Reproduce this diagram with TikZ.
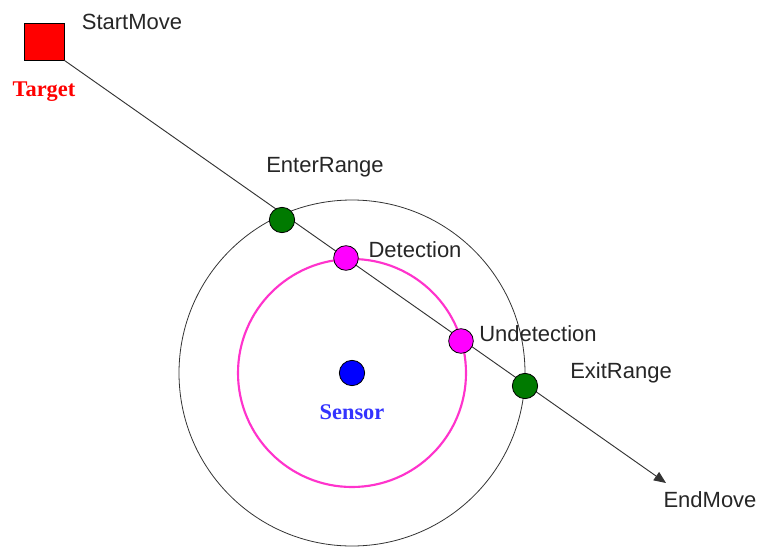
\documentclass[tikz,border=0pt]{standalone}
\usepackage{fontspec}
\setmainfont{Liberation Sans}
\newfontfamily\serifbold{Liberation Serif}
\usetikzlibrary{arrows.meta}
\definecolor{dgreen}{HTML}{007A00}
\definecolor{pinkline}{HTML}{FF33CC}
\definecolor{mfill}{HTML}{FF00FF}
\definecolor{sensorblue}{HTML}{3333FF}
\begin{document}
\begin{tikzpicture}[x=0.75pt,y=-0.75pt,
  lbl/.style={font=\fontsize{16.5pt}{18pt}\selectfont, text=black!85, inner sep=0pt},
  slbl/.style={font=\serifbold\bfseries\fontsize{16.8pt}{18pt}\selectfont, inner sep=0pt},
  dot/.style={circle, draw=black, line width=0.6pt, minimum size=19pt, inner sep=0pt},
  gdot/.style={dot, fill=dgreen},
  mdot/.style={dot, fill=mfill, minimum size=18.5pt},
  bdot/.style={dot, fill=blue},
  path/.style={draw=black!80, line width=0.7pt},
  ring/.style={draw=black!80, line width=0.6pt},
  pring/.style={draw=pinkline, line width=1.6pt}
]
\useasboundingbox (0,0) rectangle (759,546);
% target square
\node[draw=black, line width=0.6pt, fill=red, minimum width=30pt, minimum height=27.75pt, inner sep=0pt] (target) at (44,41.5) {};
\node[slbl, text=red] (targetlbl) at (44,92) {Target};
\node[lbl] (start) at (132,22) {StartMove};
% sensor
\node[bdot] (sensor) at (352,373) {};
\node[slbl, text=sensorblue] (sensorlbl) at (352,412) {Sensor};
% rings
\draw[ring] (sensor.center) circle[radius=129.75pt];
\draw[pring] (sensor.center) circle[radius=85.5pt];
% trajectory
\coordinate (endpt) at (666,483);
\draw[path, -{Triangle[length=9pt,width=7.5pt]}] (target.south east) -- (endpt);
% event dots
\node[gdot] (enter) at (282,220) {};
\node[mdot] (detect) at (346,258) {};
\node[mdot] (undetect) at (461,341) {};
\node[gdot] (exit) at (525,386) {};
% labels
\node[lbl] (enterlbl) at (325,167) {EnterRange};
\node[lbl] (detectlbl) at (415,250) {Detection};
\node[lbl] (undetectlbl) at (538,334) {Undetection};
\node[lbl] (exitlbl) at (621,373) {ExitRange};
\node[lbl] (endlbl) at (710,500) {EndMove};
\end{tikzpicture}
\end{document}
